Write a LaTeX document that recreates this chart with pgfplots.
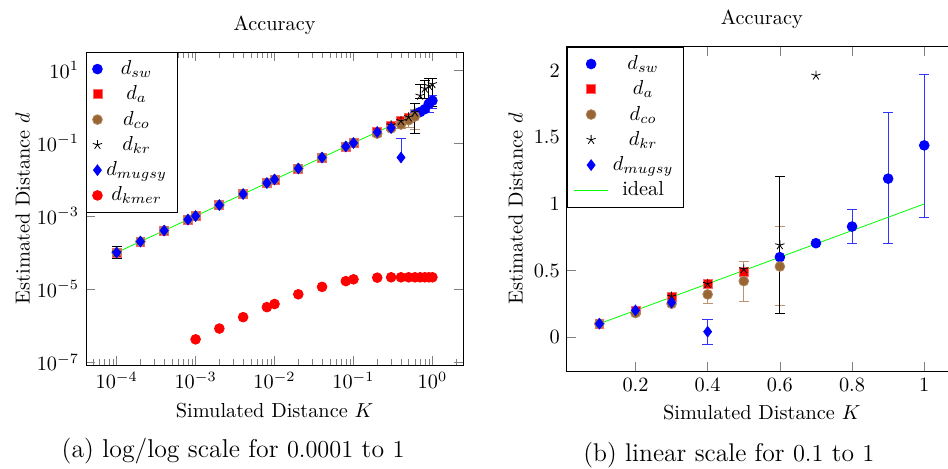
\documentclass[border=0pt]{standalone}
\usepackage{pgfplots}
\pgfplotsset{compat=1.18}

\definecolor{cobrown}{rgb}{0.6,0.4,0.2}

\pgfplotsset{
  acc/.style={
    scale only axis,
    title={Accuracy},
    xlabel={Simulated Distance $K$},
    ylabel={Estimated Distance $d$},
    legend style={at={(0,1)}, anchor=north west, fill=white, draw=black},
    legend cell align=center,
    every axis plot/.append style={only marks, mark size=2.4pt},
  },
  sw/.style={blue, mark=*, error bars/error bar style={blue!80}},
  da/.style={red, mark=square*, mark options={fill=red, draw=red!60}, mark size=2.2pt},
  co/.style={cobrown, mark=*, mark options={fill=cobrown, draw=cobrown!80}, error bars/error bar style={cobrown!70}},
  kr/.style={black, mark=star, mark size=2.4pt},
  mu/.style={blue, mark=diamond*, mark size=2.6pt, error bars/error bar style={blue!80}},
  km/.style={red, mark=*},
  ideal/.style={green, no markers, solid, thin, sharp plot},
}

\begin{document}
\begin{tikzpicture}
\useasboundingbox (0pt,0pt) rectangle (466.9pt,230.5pt);

% (a) log/log
\begin{axis}[acc,
  title style={yshift=-1pt},
  ylabel shift=-3.5pt,
  at={(42.4pt,50.7pt)}, anchor=south west,
  width=185.7pt, height=154.2pt,
  xmode=log, ymode=log,
  xmin=4.1e-5, xmax=2.45, ymin=8.3e-8, ymax=31,
  xtick={1e-4,1e-3,1e-2,1e-1,1},
  minor xtick={5e-5,6e-5,7e-5,8e-5,9e-5,
    2e-4,3e-4,4e-4,5e-4,6e-4,7e-4,8e-4,9e-4,
    2e-3,3e-3,4e-3,5e-3,6e-3,7e-3,8e-3,9e-3,
    2e-2,3e-2,4e-2,5e-2,6e-2,7e-2,8e-2,9e-2,
    0.2,0.3,0.4,0.5,0.6,0.7,0.8,0.9,2},
  ytick={1e1,1e-1,1e-3,1e-5,1e-7},
]
\addplot[ideal, forget plot] coordinates {(1e-4,1e-4) (1,1)};
\addplot[sw, error bars/.cd, y dir=both, y explicit] coordinates {
  (0.6,0.6) (0.7,0.705)
  (0.8,0.84) += (0,0.13) -= (0,0.13)
  (0.9,1.19) += (0,0.5) -= (0,0.49)
  (1,1.44) += (0,0.53) -= (0,0.54)
};
\addlegendentry{$d_{sw}$}
\addplot[da] coordinates {
  (1e-4,1e-4) (2e-4,2e-4) (4e-4,4e-4) (8e-4,8e-4) (1e-3,1e-3)
  (2e-3,2e-3) (4e-3,4e-3) (8e-3,8e-3) (1e-2,1e-2) (2e-2,2e-2)
  (4e-2,4e-2) (8e-2,8e-2) (0.1,0.1) (0.2,0.2) (0.3,0.3)
  (0.4,0.4) (0.5,0.49)
};
\addlegendentry{$d_a$}
\addplot[co, error bars/.cd, y dir=both, y explicit] coordinates {
  (1e-4,1e-4) (2e-4,2e-4) (4e-4,4e-4) (8e-4,8e-4) (1e-3,1e-3)
  (2e-3,2e-3) (4e-3,4e-3) (8e-3,8e-3) (1e-2,1e-2) (2e-2,2e-2)
  (4e-2,4e-2) (8e-2,8e-2) (0.1,0.1) (0.2,0.18) (0.3,0.25)
  (0.4,0.32) += (0,0.06) -= (0,0.065)
  (0.5,0.42) += (0,0.145) -= (0,0.15)
  (0.6,0.53) += (0,0.3) -= (0,0.29)
};
\addlegendentry{$d_{co}$}
\addplot[kr, error bars/.cd, y dir=both, y explicit] coordinates {
  (1e-4,1e-4) += (0,0.45e-4) -= (0,0.3e-4)
  (0.3,0.305) (0.4,0.4) (0.5,0.51)
  (0.6,0.69) += (0,0.52) -= (0,0.51)
  (0.7,1.98) += (0,2.1) -= (0,0.3)
  (0.8,3.1) += (0,2.2) -= (0,1.4)
  (0.9,3.7) += (0,2.0) -= (0,2.7)
  (1,4.1) += (0,1.8) -= (0,3.1)
};
\addlegendentry{$d_{kr}$}
\addplot[mu, error bars/.cd, y dir=plus, y explicit] coordinates {
  (1e-4,1e-4) (2e-4,2e-4) (4e-4,4e-4) (8e-4,8e-4) (1e-3,1e-3)
  (2e-3,2e-3) (4e-3,4e-3) (8e-3,8e-3) (1e-2,1e-2) (2e-2,2e-2)
  (4e-2,4e-2) (8e-2,8e-2) (0.1,0.1) (0.2,0.2) (0.3,0.26)
  (0.4,0.04) += (0,0.095) -= (0,0)
};
\addlegendentry{$d_{mugsy}$}
\addplot[km] coordinates {
  (1e-3,4.2e-7) (2e-3,8.3e-7) (4e-3,1.7e-6) (8e-3,3.2e-6) (1e-2,3.9e-6)
  (2e-2,7.2e-6) (4e-2,1.15e-5) (8e-2,1.65e-5) (0.1,1.85e-5) (0.2,2.05e-5)
  (0.3,2.1e-5) (0.4,2.1e-5) (0.5,2.1e-5) (0.6,2.1e-5) (0.7,2.1e-5)
  (0.8,2.1e-5) (0.9,2.1e-5) (1,2.1e-5)
};
\addlegendentry{$d_{kmer}$}
\end{axis}

% (b) linear
\begin{axis}[acc,
  title style={yshift=-0.5pt},
  ylabel shift=-1.5pt,
  at={(279.2pt,47.8pt)}, anchor=south west,
  width=192pt, height=159.6pt,
  xmin=0.01, xmax=1.09, ymin=-0.255, ymax=2.18,
  xtick={0.2,0.4,0.6,0.8,1},
  ytick={0,0.5,1,1.5,2},
]
\addplot[sw, error bars/.cd, y dir=both, y explicit] coordinates {
  (0.6,0.6) (0.7,0.705)
  (0.8,0.83) += (0,0.13) -= (0,0.13)
  (0.9,1.19) += (0,0.5) -= (0,0.49)
  (1,1.44) += (0,0.53) -= (0,0.54)
};
\addlegendentry{$d_{sw}$}
\addplot[da] coordinates {
  (0.1,0.1) (0.2,0.2) (0.3,0.3) (0.4,0.4) (0.5,0.49)
};
\addlegendentry{$d_a$}
\addplot[co, error bars/.cd, y dir=both, y explicit] coordinates {
  (0.1,0.1) (0.2,0.18) (0.3,0.25)
  (0.4,0.32) += (0,0.06) -= (0,0.065)
  (0.5,0.42) += (0,0.145) -= (0,0.15)
  (0.6,0.53) += (0,0.3) -= (0,0.29)
};
\addlegendentry{$d_{co}$}
\addplot[kr, error bars/.cd, y dir=both, y explicit] coordinates {
  (0.3,0.305) (0.4,0.4) (0.5,0.51)
  (0.6,0.69) += (0,0.52) -= (0,0.51)
  (0.7,1.965)
};
\addlegendentry{$d_{kr}$}
\addplot[mu, error bars/.cd, y dir=both, y explicit] coordinates {
  (0.1,0.1) (0.2,0.2) (0.3,0.26)
  (0.4,0.04) += (0,0.095) -= (0,0.095)
};
\addlegendentry{$d_{mugsy}$}
\addplot[ideal] coordinates {(0.1,0.1) (1,1)};
\addlegendentry{ideal}
\end{axis}

\node[font=\fontsize{12.7}{15}\selectfont] at (114.8pt,8.4pt) {(a) log/log scale for $0.0001$ to $1$};
\node[font=\fontsize{12.6}{15}\selectfont] at (359pt,6.2pt) {(b) linear scale for $0.1$ to $1$};
\end{tikzpicture}
\end{document}
